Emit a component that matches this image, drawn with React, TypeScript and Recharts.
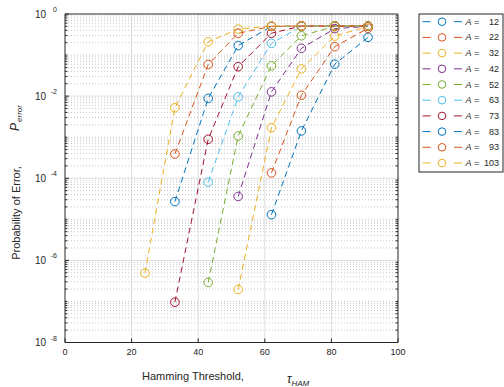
import React from "react";
import { LineChart, Line, XAxis, YAxis, CartesianGrid, ReferenceLine } from "recharts";

// Hamming thresholds used on the x axis
const thresholds = [24, 33, 43, 52, 62, 71, 81, 91];
const aValues = [12, 22, 32, 42, 52, 63, 73, 83, 93, 103];
const COLORS = [
  "#0072BD", "#D95319", "#EDB120", "#7E2F8E", "#77AC30",
  "#4DBEEE", "#A2142F", "#0072BD", "#D95319", "#EDB120",
];

// P_error per threshold, one list per A (null = not plotted)
const pA12 = [null, null, null, null, 1.3e-5, 1.42e-3, 0.06, 0.27];
const pA22 = [null, null, null, null, 1.35e-4, 0.0105, 0.16, 0.45];
const pA32 = [null, null, null, 1.96e-7, 1.7e-3, 0.046, 0.29, 0.5];
const pA42 = [null, null, null, 3.6e-5, 0.0127, 0.146, 0.44, 0.5];
const pA52 = [null, null, 2.9e-7, 1.07e-3, 0.055, 0.295, 0.5, 0.51];
const pA63 = [null, null, 8e-5, 9.6e-3, 0.193, 0.5, 0.51, 0.51];
const pA73 = [null, 9.6e-8, 8.9e-4, 0.052, 0.34, 0.51, 0.51, 0.51];
const pA83 = [null, 2.7e-5, 8.8e-3, 0.17, 0.5, 0.51, 0.51, 0.51];
const pA93 = [null, 3.9e-4, 0.059, 0.34, 0.5, 0.51, 0.51, 0.51];
const pA103 = [4.9e-7, 5.2e-3, 0.21, 0.43, 0.51, 0.51, 0.51, 0.51];

const series = [pA12, pA22, pA32, pA42, pA52, pA63, pA73, pA83, pA93, pA103];

const xTicks = [0, 20, 40, 60, 80, 100];
const yTicks = [1e-8, 1e-6, 1e-4, 1e-2, 1];

// minor grid / tick positions of the log axis
const minorValues: number[] = [];
for (let e = -8; e < 0; e++) {
  for (let k = 2; k <= 9; k++) minorValues.push(k * Math.pow(10, e));
}
[-7, -5, -3, -1].forEach((e) => minorValues.push(Math.pow(10, e)));

const INK = "#262626";
const FONT = "'Liberation Sans', Arial, Helvetica, sans-serif";

const YTick = (props: any) => {
  const { x, y, payload } = props;
  const exp = Math.round(Math.log10(payload.value));
  return (
    <g>
      <text x={x - 11} y={y + 3.5} textAnchor="end" fontSize={10} fill={INK} fontFamily={FONT}>
        10
      </text>
      <text x={x} y={y - 2} textAnchor="end" fontSize={7} fill={INK} fontFamily={FONT}>
        {exp === 0 ? "0" : `-${Math.abs(exp)}`}
      </text>
    </g>
  );
};

const XTick = (props: any) => {
  const { x, y, payload } = props;
  return (
    <text x={x} y={y + 12} textAnchor="middle" fontSize={9} fill={INK} fontFamily={FONT}>
      {payload.value}
    </text>
  );
};

const Legend = () => (
  <svg
    width={86}
    height={162}
    style={{ position: "absolute", left: 418, top: 13 }}
  >
    <rect x={1} y={1} width={84} height={158} fill="#fff" stroke={INK} strokeWidth={1} />
    {aValues.map((a, i) => {
      const cy = 8.7 + 15.7 * i;
      const c = COLORS[i];
      return (
        <g key={a}>
          <line x1={4.5} x2={12.5} y1={cy} y2={cy} stroke={c} strokeWidth={1} />
          <circle cx={24} cy={cy} r={3.8} fill="none" stroke={c} strokeWidth={1} />
          <line x1={36} x2={44} y1={cy} y2={cy} stroke={c} strokeWidth={1} />
          <text x={47.5} y={cy + 3} fontSize={9} fill={INK} fontFamily={FONT}>
            <tspan fontStyle="italic">A</tspan>
            <tspan> =</tspan>
          </text>
          <text x={81} y={cy + 3} textAnchor="end" fontSize={9} fill={INK} fontFamily={FONT}>
            {a}
          </text>
        </g>
      );
    })}
  </svg>
);

const App: React.FC = () => {
  return (
    <div
      style={{
        position: "absolute",
        left: 0,
        top: 0,
        width: 504,
        height: 387,
        background: "#fff",
        fontFamily: FONT,
      }}
    >
      <LineChart width={504} height={387} margin={{ top: 13, right: 105, bottom: 0, left: 0 }}>
        <CartesianGrid
          horizontalValues={[1e-6, 1e-4, 1e-2]}
          verticalValues={[20, 40, 60, 80]}
          stroke="#dedede"
        />
        {minorValues.map((v) => (
          <ReferenceLine key={`g${v}`} y={v} stroke="#c8c8c8" strokeDasharray="1 2" />
        ))}
        <XAxis
          type="number"
          dataKey="x"
          domain={[0, 100]}
          ticks={xTicks}
          allowDataOverflow
          height={44.5}
          tickSize={-4}
          tickMargin={4}
          tick={<XTick />}
          stroke={INK}
        />
        <XAxis
          xAxisId="top"
          orientation="top"
          type="number"
          domain={[0, 100]}
          ticks={xTicks}
          allowDataOverflow
          height={1}
          tickSize={-4}
          tick={false}
          stroke={INK}
        />
        <YAxis
          scale="log"
          domain={[1e-8, 1]}
          ticks={yTicks}
          allowDataOverflow
          width={65}
          tickSize={-4}
          tickMargin={12}
          tick={<YTick />}
          stroke={INK}
        />
        <YAxis
          yAxisId="right"
          orientation="right"
          scale="log"
          domain={[1e-8, 1]}
          ticks={yTicks}
          allowDataOverflow
          width={1}
          tickSize={-4}
          tick={false}
          stroke={INK}
        />
        {minorValues.map((v) => (
          <ReferenceLine
            key={`l${v}`}
            segment={[{ x: 0, y: v }, { x: 0.7, y: v }]}
            stroke={INK}
            ifOverflow="visible"
          />
        ))}
        {minorValues.map((v) => (
          <ReferenceLine
            key={`r${v}`}
            segment={[{ x: 99.3, y: v }, { x: 100, y: v }]}
            stroke={INK}
            ifOverflow="visible"
          />
        ))}
        {series.map((vals, i) => (
          <Line
            key={aValues[i]}
            data={thresholds
              .map((t, j) => ({ x: t, y: vals[j] }))
              .filter((d) => d.y != null)}
            dataKey="y"
            type="linear"
            stroke={COLORS[i]}
            strokeWidth={1}
            strokeDasharray="6 4"
            dot={{ r: 4.3, fill: "none", stroke: COLORS[i], strokeWidth: 1, strokeDasharray: "none" }}
            isAnimationActive={false}
          />
        ))}
      </LineChart>

      <svg width={504} height={387} style={{ position: "absolute", left: 0, top: 0, pointerEvents: "none" }}>
        <text
          transform="translate(19.5,213) rotate(-90)"
          textAnchor="middle"
          fontSize={11}
          fill={INK}
          fontFamily={FONT}
        >
          Probability of Error,
        </text>
        <text transform="translate(18.5,131) rotate(-90)" fill={INK} fontFamily={FONT}>
          <tspan fontSize={12} fontStyle="italic">P</tspan>
          <tspan fontSize={8} fontStyle="italic" dy={3} dx={1}>error</tspan>
        </text>
        <text x={142} y={380} fontSize={11} fill={INK} fontFamily={FONT}>
          Hamming Threshold,
        </text>
        <text x={287} y={383} fill={INK} fontFamily={FONT}>
          <tspan fontSize={12} fontStyle="italic">τ</tspan>
          <tspan fontSize={8} fontStyle="italic" dy={2.5}>HAM</tspan>
        </text>
      </svg>

      <Legend />
    </div>
  );
};

export default App;
